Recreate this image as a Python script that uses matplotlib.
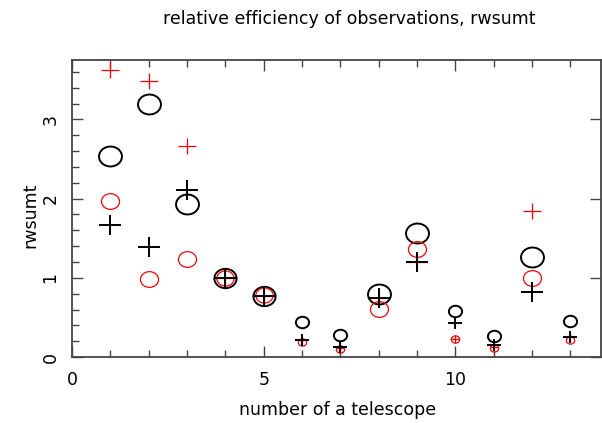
import matplotlib
matplotlib.use("Agg")
import matplotlib.pyplot as plt
from matplotlib.path import Path
from matplotlib.transforms import Affine2D
from matplotlib.ticker import MultipleLocator

# telescope numbers
telescope = [1, 2, 3, 4, 5, 6, 7, 8, 9, 10, 11, 12, 13]

# four series
black_circle = [2.54, 3.20, 1.93, 1.00, 0.77, 0.44, 0.28, 0.79, 1.56, 0.58, 0.27, 1.26, 0.45]
black_plus = [1.67, 1.39, 2.11, 1.00, 0.77, 0.21, 0.13, 0.74, 1.20, 0.43, 0.15, 0.82, 0.25]
red_circle = [1.97, 0.99, 1.24, 1.00, 0.78, 0.19, 0.10, 0.61, 1.36, 0.23, 0.11, 1.00, 0.21]
red_plus = [3.62, 3.48, 2.66, 1.00, 0.77, 0.21, 0.12, 0.75, 1.20, 0.23, 0.13, 1.85, 0.27]

# marker sizes (points) for each telescope
big = [16.5, 16.5, 16.5, 16, 16, 9.5, 9.5, 16.5, 16.5, 9.5, 9.5, 16.5, 9.5]
mid = [13, 13, 13, 12.5, 12.5, 6, 6, 13, 13, 6, 6, 13, 6]

# slightly squashed circle and plus, like the original plot device
ring = Path.unit_circle().transformed(Affine2D().scale(1.15, 1.0))
cross = Path([(-1.15, 0), (1.15, 0), (0, -1), (0, 1)],
             [Path.MOVETO, Path.LINETO, Path.MOVETO, Path.LINETO])

fig = plt.figure(figsize=(6.02, 4.23), dpi=100)
ax = fig.add_axes([0.1196, 0.156, 0.879, 0.702])


def draw(vals, sizes, marker, color, lw):
    for x, y, s in zip(telescope, vals, sizes):
        ax.plot(x, y, linestyle="none", marker=marker, ms=s,
                mfc="none", mec=color, mew=lw)


draw(black_circle, big, ring, "black", 1.4)
draw(red_circle, mid, ring, "red", 0.9)
draw(red_plus, mid, cross, "red", 0.9)
draw(black_plus, big, cross, "black", 1.4)

ax.set_xlim(0, 13.8)
ax.set_ylim(0, 3.75)
ax.xaxis.set_major_locator(MultipleLocator(5))
ax.xaxis.set_minor_locator(MultipleLocator(1))
ax.yaxis.set_major_locator(MultipleLocator(1))
ax.yaxis.set_minor_locator(MultipleLocator(0.2))
ax.tick_params(which="both", direction="in", top=True, right=True,
               color="#444444", width=1.0)
ax.tick_params(which="major", length=8, labelsize=12.5)
ax.tick_params(axis="x", which="major", pad=10)
ax.tick_params(axis="y", which="major", pad=9)
ax.tick_params(which="minor", length=5)
ax.tick_params(axis="y", which="minor", right=False)
for lab in ax.get_yticklabels():
    lab.set_rotation(90)
    lab.set_va("center")
for sp in ax.spines.values():
    sp.set_color("#444444")
    sp.set_linewidth(1.3)

fig.text(0.58, 0.955, "relative efficiency of observations, rwsumt",
         ha="center", va="center", fontsize=12.5)
fig.text(0.56, 0.03, "number of a telescope", ha="center", va="center",
         fontsize=12.5)
fig.text(0.05, 0.49, "rwsumt", ha="center", va="center", rotation=90,
         fontsize=12.5)

fig.savefig("out.png", dpi=100)
